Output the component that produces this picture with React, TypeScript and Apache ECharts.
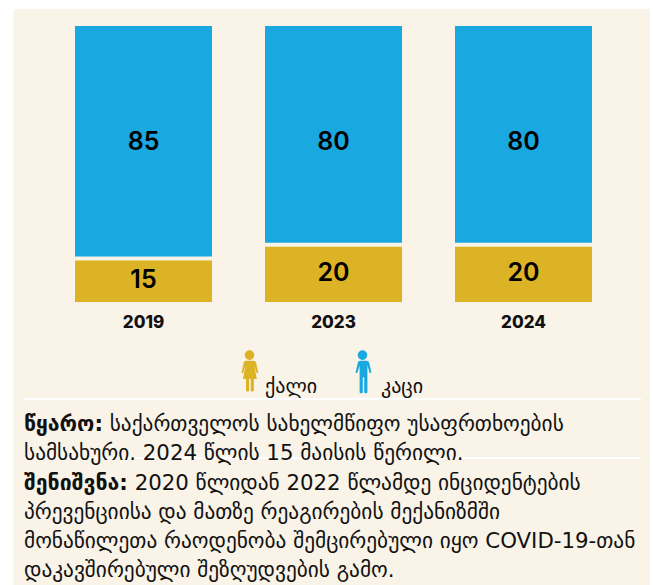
import React, { useEffect, useRef } from "react";
import * as echarts from "echarts";

const years = ["2019", "2023", "2024"];
const womenValues = [15, 20, 20];
const menValues = [85, 80, 80];
const womenName = "ქალი";
const menName = "კაცი";
const footnotes = [
  "{b|წყარო:} საქართველოს სახელმწიფო უსაფრთხოების",
  "სამსახური. 2024 წლის 15 მაისის წერილი.",
  "{b|შენიშვნა:} 2020 წლიდან 2022 წლამდე ინციდენტების",
  "პრევენციისა და მათზე რეაგირების მექანიზმში",
  "მონაწილეთა რაოდენობა შემცირებული იყო COVID-19-თან",
  "დაკავშირებული შეზღუდვების გამო.",
];

const PANEL = "#f9f3e8";
const GOLD = "#dcb325";
const BLUE = "#1aa8e0";
const NUM_FONT = "Inter, Lato, sans-serif";
const TEXT_FONT = "'DejaVu Sans', sans-serif";
const FOOT_SIZE = 21.3;

const womanPath =
  "M8.5 .8a4.8 4.8 0 1 1 0 9.6a4.8 4.8 0 1 1 0 -9.6Z M4.5 11.2h8c1.4 0 2.3 .9 2.6 2.1l2.1 9.6c.2 .9 -1.4 1.3 -1.7 .4l-2.1 -7.2l2.4 13.4h-3v11.2c0 .9 -.7 1.4 -1.5 1.4s-1.6 -.5 -1.6 -1.4v-11.2h-1.6v11.2c0 .9 -.7 1.4 -1.5 1.4s-1.6 -.5 -1.6 -1.4v-11.2h-3l2.4 -13.4l-2.1 7.2c-.3 .9 -1.9 .5 -1.7 -.4l2.1 -9.6c.3 -1.2 1.2 -2.1 2.4 -2.1Z";
const manPath =
  "M8.5 .8a4.8 4.8 0 1 1 0 9.6a4.8 4.8 0 1 1 0 -9.6Z M4.5 11.2h8c1.5 0 2.4 .9 2.7 2.1l2.1 9.2c.2 1 -1.5 1.5 -1.8 .5l-2.1 -7v26.3c0 1 -.7 1.5 -1.6 1.5s-1.6 -.5 -1.6 -1.5v-14.5h-1.4v14.5c0 1 -.7 1.5 -1.6 1.5s-1.6 -.5 -1.6 -1.5v-26.3l-2.1 7c-.3 1 -2 .5 -1.8 -.5l2.1 -9.2c.3 -1.2 1.2 -2.1 2.4 -2.1Z";

echarts.graphic.registerShape("woman", echarts.graphic.extendPath(womanPath, {}));
echarts.graphic.registerShape("man", echarts.graphic.extendPath(manPath, {}));

export default function App() {
  const ref = useRef<HTMLDivElement>(null);
  useEffect(() => {
    document.body.style.margin = "0";
    const chart = echarts.init(ref.current!, null, { renderer: "svg" });
    const lineTops = [423, 452, 482, 511, 540, 569];
    chart.setOption({
      animation: false,
      backgroundColor: "#ffffff",
      grid: { left: 48.5, right: 34.5, top: 26, bottom: 283 },
      xAxis: {
        type: "category",
        data: years,
        axisLine: { lineStyle: { color: "#f3f1e9", width: 1 } },
        axisTick: { show: true, length: 5, inside: true, lineStyle: { color: "#f3f1e9" } },
        axisLabel: {
          margin: 11,
          fontFamily: NUM_FONT,
          fontWeight: 800,
          fontSize: 17,
          color: "#111",
        },
      },
      yAxis: { type: "value", min: 0, max: 100, show: false },
      graphic: [
        { type: "rect", z: -10, shape: { x: 13.5, y: 9, width: 636.5, height: 576 }, style: { fill: PANEL } },
        { type: "line", z: -5, shape: { x1: 24, y1: 399, x2: 641, y2: 399 }, style: { stroke: "#fff", lineWidth: 2 } },
        { type: "line", z: -5, shape: { x1: 24, y1: 458, x2: 641, y2: 458 }, style: { stroke: "#fff", lineWidth: 2 } },
        { type: "woman", x: 241, y: 349.5, style: { fill: GOLD } },
        { type: "man", x: 354, y: 349.5, style: { fill: BLUE } },
        {
          type: "text", x: 265, y: 386,
          style: { text: womenName, fontFamily: TEXT_FONT, fontSize: 20, fill: "#111", verticalAlign: "middle" },
        },
        {
          type: "text", x: 381, y: 386,
          style: { text: menName, fontFamily: TEXT_FONT, fontSize: 20, fill: "#111", verticalAlign: "middle" },
        },
        ...footnotes.map((t, i) => ({
          type: "text",
          x: 24,
          y: lineTops[i],
          style: {
            text: t,
            fontFamily: TEXT_FONT,
            fontSize: FOOT_SIZE,
            fill: "#111",
            verticalAlign: "middle",
            rich: { b: { fontFamily: TEXT_FONT, fontSize: FOOT_SIZE, fontWeight: "bold", fill: "#111" } },
          },
        })),
      ],
      series: [
        {
          name: womenName,
          type: "bar",
          stack: "total",
          barWidth: 137,
          data: womenValues,
          itemStyle: { color: GOLD },
          label: {
            show: true,
            position: "inside",
            offset: [0, -2],
            fontFamily: NUM_FONT,
            fontWeight: 600,
            fontSize: 25,
            color: "#000",
          },
        },
        {
          name: menName,
          type: "custom",
          data: menValues.map((v, i) => [i, v, womenValues[i]]),
          encode: { x: 0, y: 1 },
          renderItem: (_p: any, api: any) => {
            const idx = api.value(0);
            const val = api.value(1);
            const base = api.value(2);
            const top = api.coord([idx, base + val]);
            const bottom = api.coord([idx, base]);
            const labelAt = api.coord([idx, 58.3]);
            const x = top[0] - 68.5;
            const h = bottom[1] - top[1] - 4;
            return {
              type: "group",
              children: [
                { type: "rect", shape: { x, y: top[1], width: 137, height: h }, style: { fill: BLUE } },
                {
                  type: "text",
                  style: {
                    x: labelAt[0],
                    y: labelAt[1],
                    text: String(val),
                    align: "center",
                    verticalAlign: "middle",
                    fontFamily: NUM_FONT,
                    fontWeight: 600,
                    fontSize: 25,
                    fill: "#000",
                  },
                },
              ],
            };
          },
        },
      ],
    });
    return () => chart.dispose();
  }, []);
  return <div ref={ref} style={{ position: "absolute", left: 0, top: 0, width: 653, height: 585 }} />;
}
